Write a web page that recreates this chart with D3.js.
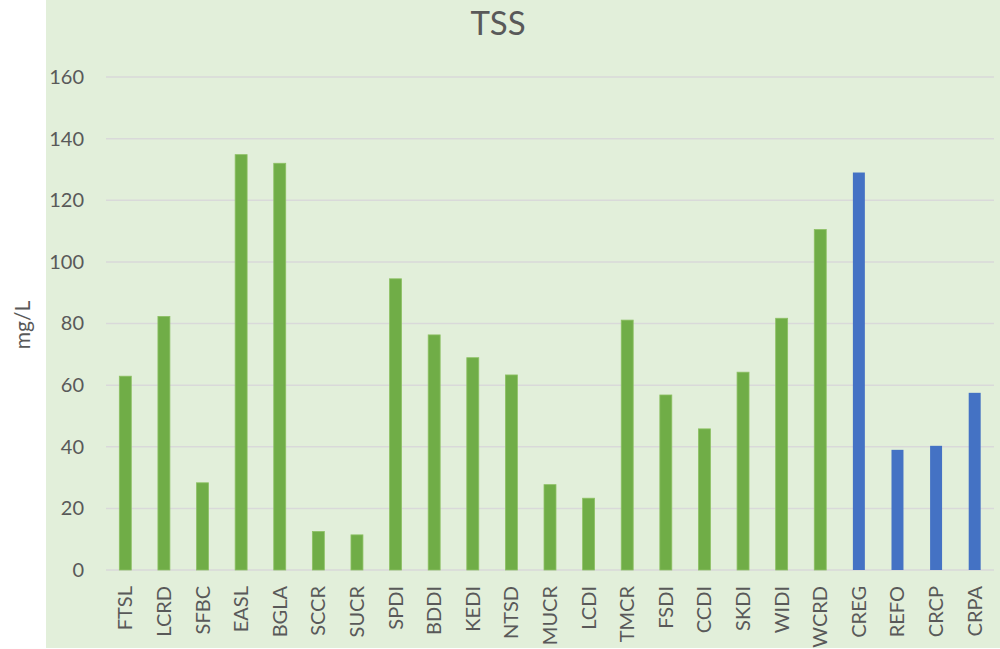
<!DOCTYPE html>
<html>
<head>
<meta charset="utf-8">
<script src="https://cdn.jsdelivr.net/npm/d3@7"></script>
<style>
    body { margin: 0; background: #ffffff; }
    text { font-family: Lato, "Open Sans", sans-serif; fill: #595959; }
</style>
</head>
<body>
<div id="chart"></div>
<script>
// site codes along the x axis
const sites = ["FTSL", "LCRD", "SFBC", "EASL", "BGLA", "SCCR", "SUCR", "SPDI", "BDDI", "KEDI", "NTSD",
    "MUCR", "LCDI", "TMCR", "FSDI", "CCDI", "SKDI", "WIDI", "WCRD", "CREG", "REFO", "CRCP", "CRPA"];

// TSS in mg/L
const tss = [62.9, 82.3, 28.3, 134.8, 132.0, 12.5, 11.4, 94.5, 76.3, 68.9, 63.3,
    27.7, 23.3, 81.1, 56.8, 45.8, 64.2, 81.7, 110.5, 129.0, 39.0, 40.3, 57.5];

// which group each site belongs to (last four drawn in blue)
const groups = ["a", "a", "a", "a", "a", "a", "a", "a", "a", "a", "a",
    "a", "a", "a", "a", "a", "a", "a", "a", "b", "b", "b", "b"];

const yTicks = [0, 20, 40, 60, 80, 100, 120, 140, 160];

const colors = {
    bg: '#E2EFDA',
    grid: '#D9D9D9',
    green: '#70AD47',
    greenEdge: '#8DC064',
    blue: '#4472C4'
};

const W = 1000, H = 649;
const margin = {top: 77, right: 6, bottom: 79, left: 106};
const width = W - margin.left - margin.right,
    height = H - margin.top - margin.bottom;

const svgRoot = d3.select("#chart").append("svg")
    .attr("width", W)
    .attr("height", H);

// chart area background
svgRoot.append("rect")
    .attr("x", 46)
    .attr("y", 0)
    .attr("width", W - 46)
    .attr("height", H - 1)
    .attr("fill", colors.bg);

const svg = svgRoot.append("g")
    .attr("transform", "translate(" + margin.left + "," + margin.top + ")");

const x = d3.scaleBand()
    .domain(sites)
    .range([0, width])
    .paddingInner(0.69)
    .paddingOuter(0.345);

const y = d3.scaleLinear()
    .domain([0, 160])
    .range([height, 0]);

// gridlines
svg.append("g")
    .attr("class", "grid")
    .selectAll("line")
    .data(yTicks)
    .join("line")
    .attr("x1", 0)
    .attr("x2", width)
    .attr("y1", d => y(d))
    .attr("y2", d => y(d))
    .attr("stroke", colors.grid)
    .attr("stroke-width", 1.5);

// y axis labels
const yAxis = d3.axisLeft(y).tickValues(yTicks).tickSize(0).tickPadding(22);
svg.append("g")
    .attr("class", "y-axis")
    .call(yAxis)
    .call(g => g.select(".domain").remove())
    .selectAll("text")
    .attr("font-size", 20)
    .style("font-family", "Lato, sans-serif")
    .attr("fill", "#595959");

// bars
const data = sites.map((s, i) => ({site: s, value: tss[i], group: groups[i]}));

svg.selectAll(".bar")
    .data(data)
    .join("rect")
    .attr("class", "bar")
    .attr("x", d => x(d.site))
    .attr("y", d => y(d.value))
    .attr("width", x.bandwidth())
    .attr("height", d => y(0) - y(d.value))
    .attr("fill", d => d.group === "a" ? colors.green : colors.blue)
    .attr("stroke", d => d.group === "a" ? colors.greenEdge : "none")
    .attr("stroke-width", 0.8);

// x axis labels (rotated)
const xAxis = d3.axisBottom(x).tickSize(0).tickPadding(0);
svg.append("g")
    .attr("class", "x-axis")
    .attr("transform", "translate(0," + height + ")")
    .call(xAxis)
    .call(g => g.select(".domain").remove())
    .selectAll("text")
    .attr("font-size", 20)
    .style("font-family", "Lato, sans-serif")
    .attr("fill", "#595959")
    .attr("transform", "rotate(-90)")
    .attr("x", -16)
    .attr("y", 0)
    .attr("dy", "0.35em")
    .attr("text-anchor", "end");

// title
svgRoot.append("text")
    .attr("x", 498)
    .attr("y", 35)
    .attr("text-anchor", "middle")
    .attr("font-size", 33)
    .text("TSS");

// y axis title
svgRoot.append("text")
    .attr("transform", "translate(30,325) rotate(-90)")
    .attr("text-anchor", "middle")
    .attr("font-size", 21)
    .text("mg/L");
</script>
</body>
</html>
